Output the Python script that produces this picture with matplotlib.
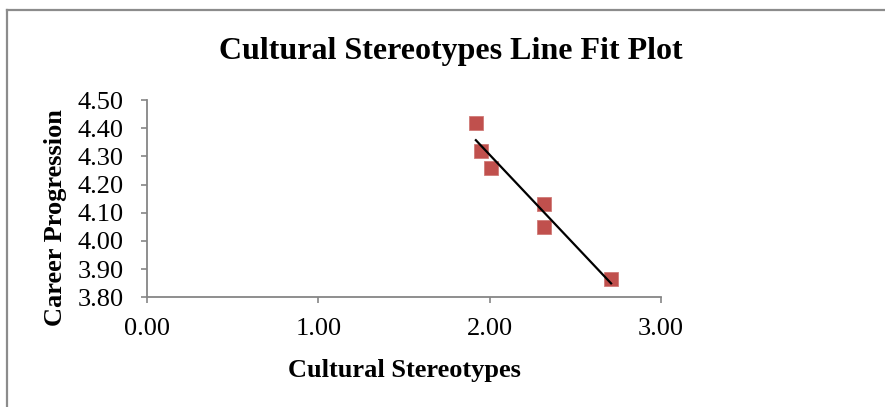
import numpy as np
import matplotlib
matplotlib.use("Agg")
import matplotlib.pyplot as plt
from matplotlib.lines import Line2D

# Observed scores
cultural_stereotypes = [1.92, 1.95, 2.01, 2.32, 2.32, 2.71]
career_progression = [4.42, 4.32, 4.26, 4.13, 4.05, 3.865]

x_ticks = [0.00, 1.00, 2.00, 3.00]
y_ticks = [3.80, 3.90, 4.00, 4.10, 4.20, 4.30, 4.40, 4.50]

plt.rcParams["font.family"] = ["Liberation Serif", "DejaVu Serif"]

W, H, DPI = 885, 407, 100
fig = plt.figure(figsize=(W / DPI, H / DPI), dpi=DPI)
fig.patch.set_facecolor("white")

# Chart-area frame (top and left edges)
frame_col = "#8c8c8c"
fig.add_artist(Line2D([7 / W, 1.0], [1 - 10 / H, 1 - 10 / H],
                      transform=fig.transFigure, color=frame_col, lw=1.6))
fig.add_artist(Line2D([7 / W, 7 / W], [0.0, 1 - 10 / H],
                      transform=fig.transFigure, color=frame_col, lw=1.6))

left, right = 147.3 / W, 660.7 / W
bottom, top = 1 - 297.3 / H, 1 - 100 / H
ax = fig.add_axes([left, bottom, right - left, top - bottom])

x = np.array(cultural_stereotypes)
y = np.array(career_progression)
slope, intercept = np.polyfit(x, y, 1)

ax.plot(x, y, linestyle="none", marker="s", markersize=10.5,
        markerfacecolor="#C0504D", markeredgecolor="#d07a77",
        markeredgewidth=0.6, zorder=3)
xs = np.array([x.min(), x.max()])
ax.plot(xs, slope * xs + intercept, color="black", lw=1.6, zorder=4)

ax.set_xlim(0, 3)
ax.set_ylim(3.80, 4.50)
ax.set_xticks(x_ticks)
ax.set_yticks(y_ticks)
ax.set_xticklabels([f"{v:.2f}" for v in x_ticks])
ax.set_yticklabels([f"{v:.2f}" for v in y_ticks])

for side in ("top", "right"):
    ax.spines[side].set_visible(False)
for side in ("left", "bottom"):
    ax.spines[side].set_color("#868686")
    ax.spines[side].set_linewidth(1.3)

ax.tick_params(axis="both", direction="out", length=4, width=1.2,
               color="#868686", labelsize=19, labelcolor="black")
ax.tick_params(axis="y", pad=13)
ax.tick_params(axis="x", pad=11)

ax.set_xlabel("Cultural Stereotypes", fontsize=19, fontweight="bold")
ax.xaxis.set_label_coords(0.5, (297.3 - 370) / 197.3)
ax.xaxis.label.set_va("center")
ax.set_ylabel("Career Progression", fontsize=19, fontweight="bold")
ax.yaxis.set_label_coords((56 - 147.3) / 513.4, (297.3 - 218) / 197.3)
ax.yaxis.label.set_va("center")

fig.text(451 / W, 1 - 51 / H, "Cultural Stereotypes Line Fit Plot",
         ha="center", va="center", fontsize=23, fontweight="bold")

fig.savefig("out.png", dpi=DPI)
